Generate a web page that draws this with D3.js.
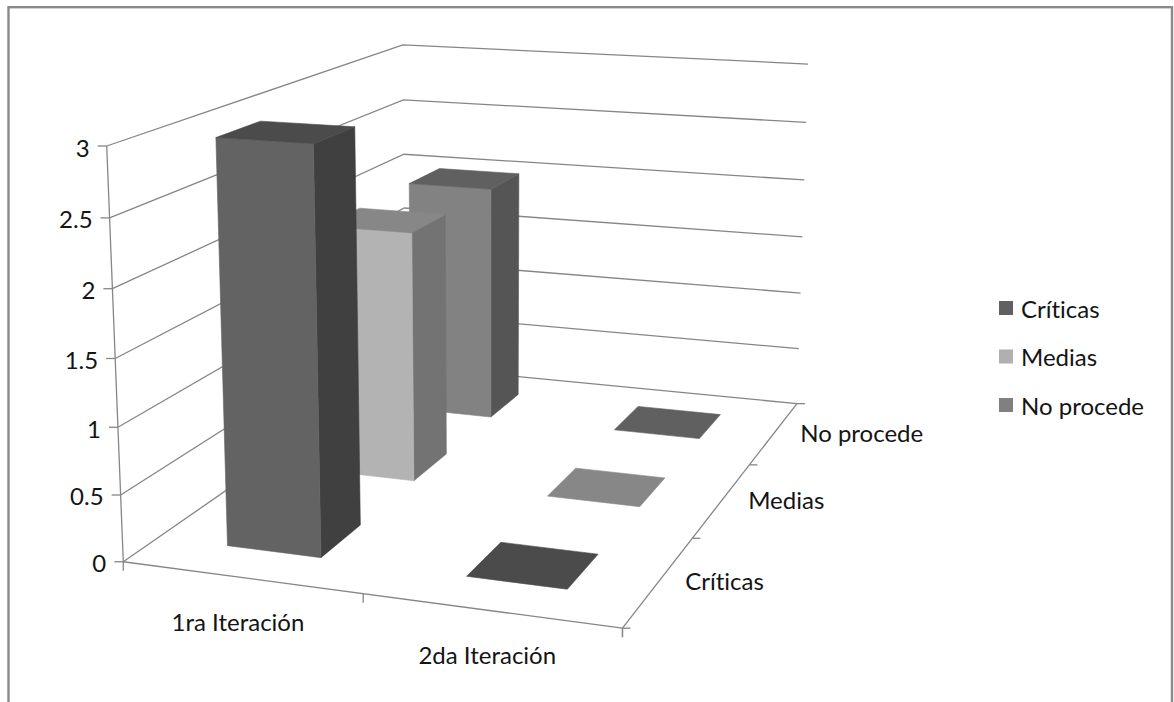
<!DOCTYPE html>
<html>
<head>
<meta charset="utf-8">
<script src="https://cdn.jsdelivr.net/npm/d3@7"></script>
<style>
  html, body { margin: 0; padding: 0; background: #fff; }
  svg { display: block; }
  text { font-family: Lato, "Noto Sans", sans-serif; fill: #141414; font-variant-ligatures: none; }
</style>
</head>
<body>
<svg id="chart" width="1174" height="702"></svg>
<script>
// ---- data ----
const categories = ["1ra Iteración", "2da Iteración"];
const seriesNames = ["Críticas", "Medias", "No procede"];
const criticas = [3, 0];
const medias = [2, 0];
const noProcede = [2, 0];
const valueTicks = [0, 0.5, 1, 1.5, 2, 2.5, 3];
const valueTickLabels = ["0", "0.5", "1", "1.5", "2", "2.5", "3"];

const seriesValues = [criticas, medias, noProcede];

// face shades per series: front, side, top, legend swatch
const shades = [
  { front: "#636363", side: "#404040", top: "#4b4b4b", key: "#606060" },
  { front: "#b3b3b3", side: "#737373", top: "#878787", key: "#b0b0b0" },
  { front: "#828282", side: "#555555", top: "#606060", key: "#808080" }
];

// ---- 3D box & camera ----
// world box: X along categories [0,2], Z along series depth [0,3], Y value [0,3]
const boxX = 2, boxZ = 3, boxY = 3;
// where the plot box edges land on the page (used to calibrate the perspective camera)
const frameAnchors = [
  { w: [0, 0, 0],   s: [123.3, 562] },
  { w: [0, 0, 1],   s: [118.6, 426.7] },
  { w: [0, 0, 2],   s: [112.4, 289] },
  { w: [0, 0, 3],   s: [106.7, 146] },
  { w: [1, 0, 0],   s: [362.3, 594] },
  { w: [2, 0, 0],   s: [621.7, 628.3] },
  { w: [2, 1, 0],   s: [693.3, 538] },
  { w: [2, 2, 0],   s: [750, 464.5] },
  { w: [2, 3, 0],   s: [797, 403.3] },
  { w: [2, 3, 1.5], s: [801.7, 237.7] },
  { w: [2, 3, 3],   s: [808.3, 64] },
  { w: [0, 3, 3],   s: [403.3, 44] },
  { w: [0, 3, 2],   s: [403.3, 155] }
];

const U0 = 500, V0 = 400, S = 300;

function solveLinear(M, r) {
  const n = r.length;
  const A = M.map((row, i) => row.concat([r[i]]));
  for (let c = 0; c < n; c++) {
    let piv = c;
    for (let i = c + 1; i < n; i++) if (Math.abs(A[i][c]) > Math.abs(A[piv][c])) piv = i;
    [A[c], A[piv]] = [A[piv], A[c]];
    for (let i = c + 1; i < n; i++) {
      const f = A[i][c] / A[c][c];
      for (let k = c; k <= n; k++) A[i][k] -= f * A[c][k];
    }
  }
  const x = new Array(n).fill(0);
  for (let i = n - 1; i >= 0; i--) {
    let s = A[i][n];
    for (let k = i + 1; k < n; k++) s -= A[i][k] * x[k];
    x[i] = s / A[i][i];
  }
  return x;
}

function fitCamera(anchors) {
  const rows = [], rhs = [];
  anchors.forEach(a => {
    const [X, Z, Y] = a.w;
    const u = (a.s[0] - U0) / S, v = (a.s[1] - V0) / S;
    rows.push([X, Y, Z, 1, 0, 0, 0, 0, -u * X, -u * Y, -u * Z]); rhs.push(u);
    rows.push([0, 0, 0, 0, X, Y, Z, 1, -v * X, -v * Y, -v * Z]); rhs.push(v);
  });
  const n = 11;
  const M = d3.range(n).map(() => new Array(n).fill(0));
  const r = new Array(n).fill(0);
  rows.forEach((row, k) => {
    for (let i = 0; i < n; i++) {
      r[i] += row[i] * rhs[k];
      for (let j = 0; j < n; j++) M[i][j] += row[i] * row[j];
    }
  });
  return solveLinear(M, r);
}

const P = fitCamera(frameAnchors);
function project(X, Z, Y) {
  const w = P[8] * X + P[9] * Y + P[10] * Z + 1;
  const u = (P[0] * X + P[1] * Y + P[2] * Z + P[3]) / w;
  const v = (P[4] * X + P[5] * Y + P[6] * Z + P[7]) / w;
  return [u * S + U0, v * S + V0];
}

// ---- scales ----
const xBand = d3.scaleBand().domain(categories).range([0, boxX]).paddingInner(0.6).paddingOuter(0.3);
const zBand = d3.scaleBand().domain(seriesNames).range([0, boxZ]).paddingInner(0.6).paddingOuter(0.3);
const xCell = d3.scaleBand().domain(categories).range([0, boxX]);
const zCell = d3.scaleBand().domain(seriesNames).range([0, boxZ]);
const yVal = d3.scaleLinear().domain([0, 3]).range([0, boxY]);

const svg = d3.select("#chart");
const line = d3.line();
const gridColor = "#868686";
const fontSize = 24;

// chart border
svg.append("rect")
  .attr("x", 8.5).attr("y", 7.2).attr("width", 1163.5).attr("height", 740)
  .attr("fill", "#fff").attr("stroke", "#898989").attr("stroke-width", 2.4);

// ---- walls: gridlines on the side wall and the back wall ----
const grid = svg.append("g").attr("fill", "none").attr("stroke", gridColor).attr("stroke-width", 1.3);
valueTicks.forEach(t => {
  const y = yVal(t);
  grid.append("path").attr("d", line([project(0, 0, y), project(0, boxZ, y), project(boxX, boxZ, y)]));
});

// floor edges
grid.append("path").attr("d", line([project(0, 0, 0), project(boxX, 0, 0)]));
grid.append("path").attr("d", line([project(boxX, 0, 0), project(boxX, boxZ, 0)]));
// value axis
grid.append("path").attr("d", line([project(0, 0, 0), project(0, 0, yVal(3))]));

// value axis ticks & labels
const yAxisG = svg.append("g");
valueTicks.forEach((t, i) => {
  const p = project(0, 0, yVal(t));
  yAxisG.append("path").attr("d", line([[p[0] - 9, p[1]], [p[0], p[1]]]))
    .attr("stroke", gridColor).attr("stroke-width", 1.3);
  yAxisG.append("text")
    .attr("x", p[0] - 17).attr("y", p[1] + 1)
    .attr("text-anchor", "end").attr("dominant-baseline", "central")
    .attr("font-size", fontSize)
    .text(valueTickLabels[i]);
});

// category axis ticks & labels
const xAxisG = svg.append("g");
[0, 1, 2].forEach(k => {
  const p = project(k, 0, 0);
  xAxisG.append("path").attr("d", line([[p[0], p[1]], [p[0], p[1] + 9]]))
    .attr("stroke", gridColor).attr("stroke-width", 1.3);
});
categories.forEach(c => {
  const p = project(xCell(c) + xCell.bandwidth() / 2, 0, 0);
  xAxisG.append("text")
    .attr("x", p[0] - 3).attr("y", p[1] + 44)
    .attr("text-anchor", "middle").attr("dominant-baseline", "central")
    .attr("font-size", fontSize)
    .text(c);
});

// series (depth) axis ticks & labels
const zAxisG = svg.append("g");
[0, 1, 2, 3].forEach(k => {
  const p = project(boxX, k, 0);
  zAxisG.append("path").attr("d", line([[p[0], p[1]], [p[0] + 8, p[1]]]))
    .attr("stroke", gridColor).attr("stroke-width", 1.3);
});
{
  const p = project(boxX, 0, 0);
  zAxisG.append("path").attr("d", line([[p[0], p[1]], [p[0], p[1] + 9]]))
    .attr("stroke", gridColor).attr("stroke-width", 1.3);
}
seriesNames.forEach(s => {
  const p = project(boxX, zCell(s) + zCell.bandwidth() / 2, 0);
  zAxisG.append("text")
    .attr("x", p[0] + 26).attr("y", p[1])
    .attr("text-anchor", "start").attr("dominant-baseline", "central")
    .attr("font-size", fontSize)
    .text(s);
});

// ---- bars ----
const bars = [];
seriesNames.forEach((s, si) => {
  categories.forEach((c, ci) => {
    bars.push({ si, x0: xBand(c), x1: xBand(c) + xBand.bandwidth(),
      z0: zBand(s), z1: zBand(s) + zBand.bandwidth(), h: yVal(seriesValues[si][ci]) });
  });
});
// paint back to front
bars.sort((a, b) => (b.z0 - a.z0) || (a.x0 - b.x0));

const barG = svg.append("g");
bars.forEach(b => {
  const sh = shades[b.si];
  const faces = [];
  if (b.h > 0) {
    faces.push({ pts: [[b.x1, b.z0, 0], [b.x1, b.z1, 0], [b.x1, b.z1, b.h], [b.x1, b.z0, b.h]], fill: sh.side });
    faces.push({ pts: [[b.x0, b.z0, 0], [b.x1, b.z0, 0], [b.x1, b.z0, b.h], [b.x0, b.z0, b.h]], fill: sh.front });
  }
  faces.push({ pts: [[b.x0, b.z0, b.h], [b.x1, b.z0, b.h], [b.x1, b.z1, b.h], [b.x0, b.z1, b.h]], fill: sh.top });
  faces.forEach(f => {
    barG.append("path")
      .attr("d", line(f.pts.map(q => project(q[0], q[1], q[2]))) + "Z")
      .attr("fill", f.fill).attr("stroke", f.fill).attr("stroke-width", 0.6)
      .attr("stroke-linejoin", "round");
  });
});

// ---- legend ----
const legend = svg.append("g").attr("transform", "translate(999,308)");
seriesNames.forEach((s, i) => {
  const g = legend.append("g").attr("transform", `translate(0,${i * 48.5})`);
  g.append("rect").attr("x", 0).attr("y", -7).attr("width", 14).attr("height", 14).attr("fill", shades[i].key);
  g.append("text").attr("x", 22).attr("y", 0).attr("dominant-baseline", "central")
    .attr("font-size", fontSize).text(s);
});
</script>
</body>
</html>
